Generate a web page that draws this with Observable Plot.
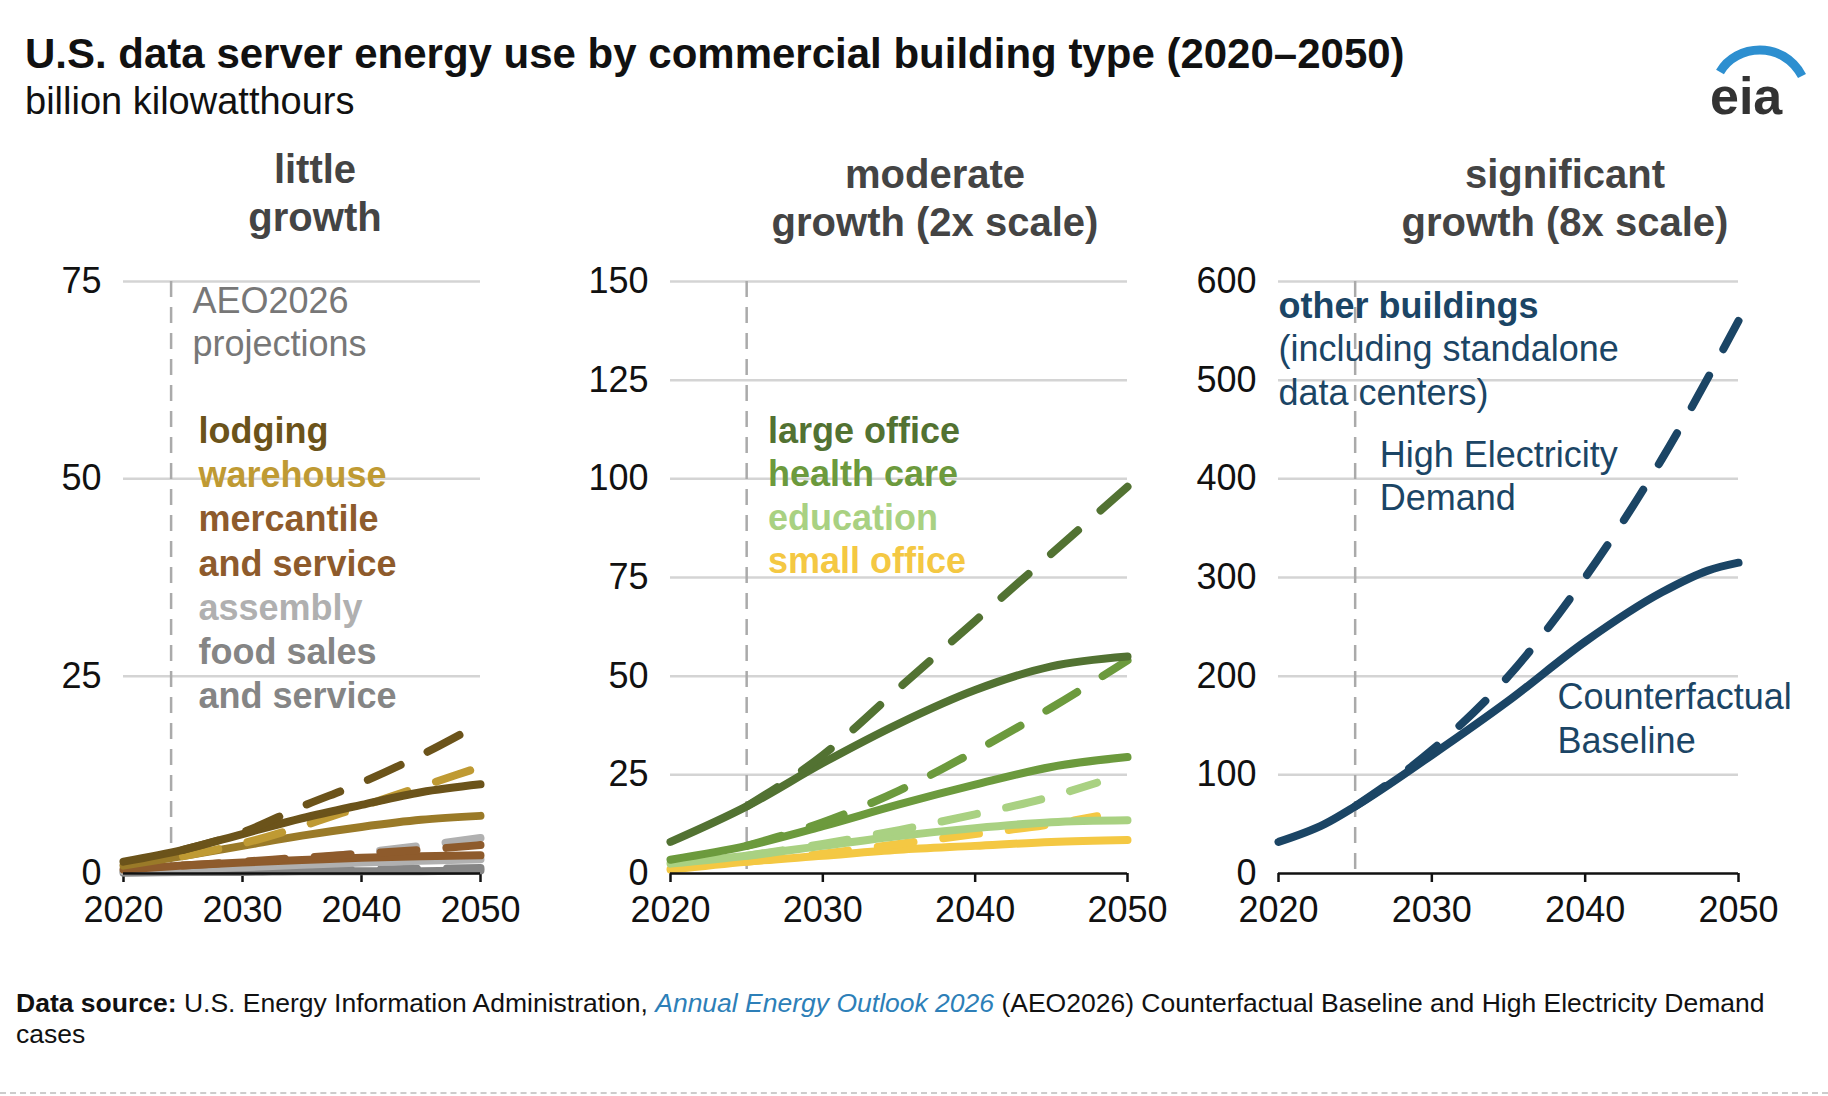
<!DOCTYPE html>
<html><head><meta charset="utf-8">
<script src="https://cdn.jsdelivr.net/npm/d3@7"></script>
<script src="https://cdn.jsdelivr.net/npm/@observablehq/plot@0.6"></script>
<style>
body{margin:0;width:1828px;height:1096px;background:#fff;font-family:"Liberation Sans",Arial,sans-serif;position:relative;overflow:hidden}
.abs{position:absolute}
.ptitle{font-weight:bold;font-size:40px;color:#444;text-align:center;line-height:48px}
svg text{font-family:"Liberation Sans",Arial,sans-serif}
</style></head><body>
<div class="abs" style="left:25px;top:30px;font-weight:bold;font-size:42px;color:#111">U.S. data server energy use by commercial building type (2020–2050)</div>
<div class="abs" style="left:25px;top:80px;font-size:38px;color:#111">billion kilowatthours</div>
<div class="abs" style="left:1690px;top:38px;width:130px;height:90px">
<svg width="130" height="90"><path d="M30,34 C46,6 93,2 112,38" fill="none" stroke="#2d8fd0" stroke-width="9"/>
<text x="20" y="76" font-size="52" font-weight="bold" fill="#333" font-family="Liberation Sans">eia</text></svg></div>
<div class="abs ptitle" style="left:170px;top:145px;width:290px">little<br>growth</div>
<div class="abs ptitle" style="left:700px;top:150px;width:470px">moderate<br>growth (2x scale)</div>
<div class="abs ptitle" style="left:1330px;top:150px;width:470px">significant<br>growth (8x scale)</div>
<div id="p1" class="abs" style="left:33px;top:271px"></div>
<div id="p2" class="abs" style="left:580px;top:271px"></div>
<div id="p3" class="abs" style="left:1188px;top:271px"></div>
<div class="abs" style="left:16px;top:988px;font-size:26.5px;color:#111;line-height:31px;width:1810px"><b>Data source:</b> U.S. Energy Information Administration, <i style="color:#2d7fb8">Annual Energy Outlook 2026</i> (AEO2026) Counterfactual Baseline and High Electricity Demand<br>cases</div>
<div class="abs" style="left:0;top:1092px;width:1828px;border-top:2px dashed #ccc"></div>
<script>
// ---- data ----
const years = [2020,2025,2030,2035,2040,2045,2050];
const yearsShort = [2025,2030,2035,2040,2045,2048];
// panel 1: little growth
const lodgingBase = [1.5,3,5,7,8.7,10.3,11.3];
const lodgingHigh = [null,3,5.2,8.5,11.5,15,19];
const warehouseBase = [1,2.2,3.5,4.8,5.9,6.8,7.3];
const warehouseHigh = [null,2.2,3.8,6,8.5,11,13.5];
const mercantileBase = [0.5,1,1.4,1.7,2,2.2,2.3];
const mercantileHigh = [null,1,1.5,2,2.5,3,3.6];
const assemblyBase = [0.3,0.5,0.8,1.1,1.4,1.6,1.8];
const assemblyHigh = [null,0.5,1,1.8,2.6,3.5,4.5];
const foodBase = [0.1,0.2,0.2,0.3,0.3,0.3,0.4];
const foodHigh = [null,0.2,0.3,0.4,0.5,0.6,0.7];
// panel 2: moderate growth
const largeBase = [8,17,28,38,46.5,52.5,55];
const largeHigh = [null,17,30,47,64,81,98];
const healthBase = [3.5,7,12,17.5,22.5,27,29.5];
const healthHigh = [null,7,13,21,31,42,54];
const eduBase = [2.5,4.5,7,9.5,11.5,13,13.5];
const eduHigh = [4.5,7.5,11,15,19.5,23];
const smallBase = [1,3,4.5,6,7,8,8.5];
const smallHigh = [3,5,7.5,10,12.5,14.5];
// panel 3: significant growth
const yearsOther = [2020,2023,2025,2030,2035,2040,2045,2048,2050];
const otherBase = [32,50,68,120,175,235,285,307,315];
const otherHighYears = [2025,2030,2035,2040,2045,2050];
const otherHigh = [68,125,200,300,420,560];
// labels
const p1Labels = ["lodging","warehouse","mercantile","and service","assembly","food sales","and service"];
const p1LabelY = [56,50.4,44.8,39.2,33.6,28,22.4];
const p2Labels = ["large office","health care","education","small office"];
const p2LabelY = [112,101,90,79];
const p3Labels = ["other buildings","(including standalone","data centers)"];
const p3LabelY = [575,531,487];

const C = {lodging:"#6b531a",warehouse:"#bf9a33",ware2:"#9a7a28",merc:"#8e5b2c",assembly:"#b0b0b0",food:"#858585",
  large:"#527232",health:"#6c9a3d",edu:"#a9d182",small:"#f4c843",other:"#1b4565"};

function series(xs, ys){ return xs.map((x,i)=>({x,y:ys[i]})).filter(d=>d.y!=null); }
function solid(xs,ys,c){ return Plot.line(series(xs,ys),{x:"x",y:"y",stroke:c,strokeWidth:8,curve:"monotone-x",strokeLinecap:"round"}); }
function dashed(xs,ys,c){ return Plot.line(series(xs,ys),{x:"x",y:"y",stroke:c,strokeWidth:8,curve:"monotone-x",strokeDasharray:"36,30",strokeLinecap:"round"}); }

function panel(id,{yMax,yTicks,marginLeft,width,vline,marks}){
  const p = Plot.plot({
    width, height:662, marginLeft, marginRight:40, marginTop:10, marginBottom:60,
    style:{fontSize:"36px",color:"#111",background:"transparent",overflow:"visible"},
    x:{domain:[2020,2050],label:null},
    y:{domain:[0,yMax],label:null},
    marks:[
      Plot.gridY(yTicks.filter(t=>t>0),{stroke:"#d4d4d4",strokeOpacity:1,strokeWidth:2.5}),
      Plot.axisY(yTicks,{tickSize:0,tickPadding:22,fontSize:36,fill:"#111"}),
      Plot.axisX([2020,2030,2040,2050],{tickSize:9,tickPadding:14,strokeWidth:2.5,tickFormat:d=>String(d),fontSize:36,fill:"#111"}),
      Plot.ruleX([vline],{stroke:"#aaa",strokeWidth:2.5,strokeDasharray:"16,10"}),
      ...marks,
      Plot.ruleY([0],{stroke:"#111",strokeWidth:2.5})
    ]
  });
  document.getElementById(id).appendChild(p);
}
function labels(txt,ys,x,colors,opts={}){
  return txt.map((t,i)=>Plot.text([t],{x:()=>x,y:()=>ys[i],text:d=>d,fill:colors[i],textAnchor:"start",fontSize:36,fontWeight:opts.weight?opts.weight(i):"bold"}));
}

panel("p1",{yMax:75,yTicks:[0,25,50,75],marginLeft:90,width:487,vline:2024,marks:[
  solid(years,foodBase,C.food), dashed(years,foodHigh,C.food),
  solid(years,assemblyBase,C.assembly), dashed(years,assemblyHigh,C.assembly),
  solid(years,mercantileBase,C.merc), dashed(years,mercantileHigh,C.merc),
  solid(years,warehouseBase,C.ware2), dashed(years,warehouseHigh,C.warehouse),
  solid(years,lodgingBase,C.lodging), dashed(years,lodgingHigh,C.lodging),
  ...labels(["AEO2026","projections"],[72.5,67],2025.8,["#777","#777"],{weight:()=>"normal"}),
  ...labels(p1Labels,p1LabelY,2026.3,[C.lodging,C.warehouse,C.merc,C.merc,C.assembly,C.food,C.food])
]});
panel("p2",{yMax:150,yTicks:[0,25,50,75,100,125,150],marginLeft:90,width:587,vline:2025,marks:[
  solid(years,smallBase,C.small), dashed(yearsShort,smallHigh,C.small),
  solid(years,eduBase,C.edu), dashed(yearsShort,eduHigh,C.edu),
  solid(years,healthBase,C.health), dashed(years,healthHigh,C.health),
  solid(years,largeBase,C.large), dashed(years,largeHigh,C.large),
  ...labels(p2Labels,p2LabelY,2026.4,[C.large,C.health,C.edu,C.small])
]});
panel("p3",{yMax:600,yTicks:[0,100,200,300,400,500,600],marginLeft:90,width:590,vline:2025,marks:[
  solid(yearsOther,otherBase,C.other), dashed(otherHighYears,otherHigh,C.other),
  ...labels(p3Labels,p3LabelY,2020,[C.other,C.other,C.other],{weight:i=>i===0?"bold":"normal"}),
  ...labels(["High Electricity","Demand"],[424,380],2026.6,[C.other,C.other],{weight:()=>"normal"}),
  ...labels(["Counterfactual","Baseline"],[178,134],2038.2,[C.other,C.other],{weight:()=>"normal"})
]});
</script>
</body></html>
